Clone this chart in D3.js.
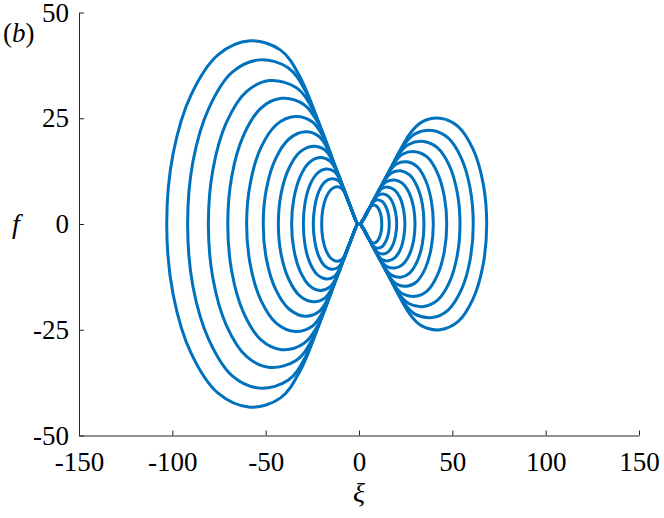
<!DOCTYPE html>
<html>
<head>
<meta charset="utf-8">
<script src="https://cdn.jsdelivr.net/npm/d3@7"></script>
<style>
  body { margin: 0; background: #fff; }
  text { font-family: "Liberation Serif", "Times New Roman", serif; fill: #000; }
</style>
</head>
<body>
<svg id="chart" width="664" height="518"></svg>
<script>
// upper half of each loop, [xi, f], from the outer extreme round to the tip
var leftLoops = [
  [[-103.0, 0], [-99.6, 16.6], [-89.9, 30.6], [-75.5, 40.0], [-58.4, 43.3], [-42.0, 41.1], [-31.4, 34.6], [-16.7, 17.9], [-1.9, 1.0], [-1, 0]],
  [[-91.8, 0], [-88.9, 14.9], [-80.4, 27.4], [-67.9, 35.9], [-53.0, 38.8], [-37.8, 36.9], [-28.2, 31.0], [-15.1, 16.1], [-1.9, 1.0], [-1, 0]],
  [[-80.7, 0], [-78.2, 13.0], [-71.0, 24.0], [-60.3, 31.3], [-47.7, 33.9], [-33.5, 32.2], [-24.8, 27.1], [-13.4, 14.2], [-1.9, 1.0], [-1, 0]],
  [[-70.3, 0], [-68.1, 11.4], [-61.8, 21.0], [-52.5, 27.4], [-41.4, 29.7], [-29.4, 28.2], [-21.8, 23.8], [-11.9, 12.5], [-1.9, 1.0], [-1, 0]],
  [[-60.2, 0], [-58.2, 9.7], [-52.6, 18.0], [-44.2, 23.5], [-34.3, 25.4], [-24.9, 24.1], [-18.8, 20.3], [-10.4, 10.8], [-1.9, 1.0], [-1, 0]],
  [[-51.3, 0], [-49.6, 8.3], [-44.7, 15.4], [-37.5, 20.1], [-28.9, 21.8], [-21.4, 20.7], [-16.3, 17.4], [-9.2, 9.3], [-1.9, 1.0], [-1, 0]],
  [[-43.2, 0], [-41.8, 7.0], [-37.7, 13.0], [-31.7, 17.0], [-24.5, 18.4], [-18.2, 17.5], [-13.9, 14.7], [-8.0, 8.0], [-1.9, 1.0], [-1, 0]],
  [[-36.1, 0], [-34.9, 6.0], [-31.6, 11.1], [-26.7, 14.5], [-20.9, 15.7], [-15.6, 14.9], [-12.0, 12.6], [-7.0, 6.9], [-1.9, 1.0], [-1, 0]],
  [[-29.8, 0], [-28.9, 5.0], [-26.3, 9.2], [-22.3, 12.0], [-17.7, 13.0], [-13.2, 12.4], [-10.1, 10.4], [-6.1, 5.8], [-1.9, 1.0], [-1, 0]],
  [[-24.5, 0], [-23.7, 4.1], [-21.6, 7.6], [-18.4, 9.9], [-14.6, 10.7], [-11.0, 10.2], [-8.5, 8.6], [-5.3, 4.9], [-1.9, 1.0], [-1, 0]],
  [[-20.0, 0], [-19.4, 3.4], [-17.7, 6.2], [-15.1, 8.1], [-12.0, 8.8], [-9.2, 8.4], [-7.2, 7.0], [-4.6, 4.1], [-1.9, 1.0], [-1, 0]]
];

var rightLoops = [
  [[68.4, 0], [66.5, 9.6], [61.1, 17.7], [53.0, 23.1], [43.4, 25.0], [33.6, 24.1], [27.2, 21.3], [14.7, 11.2], [2.2, 1.0], [1, 0]],
  [[61.2, 0], [59.5, 8.5], [54.8, 15.6], [47.6, 20.4], [39.2, 22.1], [30.0, 21.3], [24.2, 18.8], [13.2, 9.9], [2.2, 1.0], [1, 0]],
  [[54.1, 0], [52.6, 7.5], [48.4, 13.8], [42.1, 18.0], [34.6, 19.5], [26.6, 18.8], [21.5, 16.6], [11.9, 8.8], [2.2, 1.0], [1, 0]],
  [[47.0, 0], [45.7, 6.5], [42.0, 12.1], [36.6, 15.8], [30.1, 17.1], [23.3, 16.5], [18.9, 14.5], [10.6, 7.8], [2.2, 1.0], [1, 0]],
  [[39.8, 0], [38.7, 5.6], [35.6, 10.4], [31.0, 13.6], [25.5, 14.7], [20.1, 14.2], [16.4, 12.5], [9.3, 6.8], [2.2, 1.0], [1, 0]],
  [[34.8, 0], [33.9, 4.8], [31.1, 8.9], [27.1, 11.6], [22.3, 12.6], [17.4, 12.1], [14.2, 10.7], [8.2, 5.9], [2.2, 1.0], [1, 0]],
  [[30.0, 0], [29.2, 4.0], [26.8, 7.4], [23.3, 9.6], [19.2, 10.4], [14.7, 10.0], [11.9, 8.8], [7.1, 4.9], [2.2, 1.0], [1, 0]],
  [[24.6, 0], [23.9, 3.3], [22.0, 6.2], [19.1, 8.0], [15.7, 8.7], [12.3, 8.4], [10.1, 7.4], [6.2, 4.2], [2.2, 1.0], [1, 0]],
  [[20.2, 0], [19.6, 2.7], [18.1, 5.0], [15.7, 6.6], [12.9, 7.1], [10.2, 6.8], [8.4, 6.0], [5.3, 3.5], [2.2, 1.0], [1, 0]],
  [[16.2, 0], [15.8, 2.2], [14.5, 4.0], [12.6, 5.3], [10.4, 5.7], [8.4, 5.5], [7.0, 4.8], [4.6, 2.9], [2.2, 1.0], [1, 0]],
  [[12.2, 0], [11.9, 1.7], [10.9, 3.2], [9.5, 4.2], [7.8, 4.5], [6.7, 4.3], [5.7, 3.8], [4.0, 2.4], [2.2, 1.0], [1, 0]]
];

var xTicks = [-150, -100, -50, 0, 50, 100, 150];
var yTicks = [-50, -25, 0, 25, 50];

var margin = { left: 79, right: 25, top: 12.5, bottom: 82.5 };
var width = 664, height = 518;

var svg = d3.select('#chart');

var x = d3.scaleLinear().domain([-150, 150]).range([margin.left, width - margin.right]);
var y = d3.scaleLinear().domain([-50, 50]).range([height - margin.bottom, margin.top]);

// the loops are symmetric in f, so the lower half is the upper one mirrored
function ring(half) {
  var lower = half.slice(1, -1).reverse().map(function(p) { return [p[0], -p[1]]; });
  return half.concat(lower);
}

var line = d3.line()
  .x(function(d) { return x(d[0]); })
  .y(function(d) { return y(d[1]); })
  .curve(d3.curveCatmullRomClosed.alpha(0.5));

svg.append('g')
  .selectAll('path')
  .data(leftLoops.concat(rightLoops))
  .enter()
  .append('path')
  .attr('d', function(d) { return line(ring(d)); })
  .attr('fill', 'none')
  .attr('stroke', '#0072bd')
  .attr('stroke-width', 3)
  .attr('stroke-linejoin', 'round');

// plain hyphen for negatives, as in the original
var fmt = function(d) { return String(d); };

var xAxis = svg.append('g')
  .attr('transform', 'translate(0,' + y(-50) + ')')
  .call(d3.axisBottom(x).tickValues(xTicks).tickFormat(fmt).tickSizeInner(-5).tickSizeOuter(0).tickPadding(16));

var yAxis = svg.append('g')
  .attr('transform', 'translate(' + x(-150) + ',0)')
  .call(d3.axisLeft(y).tickValues(yTicks).tickFormat(fmt).tickSizeInner(-5).tickSizeOuter(0).tickPadding(10));

[xAxis, yAxis].forEach(function(g) {
  g.select('.domain').attr('stroke', '#262626').attr('stroke-width', 1);
  g.selectAll('.tick line').attr('stroke', '#262626');
  g.selectAll('.tick text')
    .attr('fill', '#000')
    .style('font-family', '"Liberation Serif", serif')
    .style('font-size', '27px');
});

svg.append('text')
  .attr('x', x(0))
  .attr('y', 502)
  .attr('text-anchor', 'middle')
  .style('font-size', '28px')
  .style('font-style', 'italic')
  .text('ξ');

svg.append('text')
  .attr('x', 16)
  .attr('y', y(0) + 9)
  .attr('text-anchor', 'middle')
  .style('font-size', '28px')
  .style('font-style', 'italic')
  .text('f');

var tag = svg.append('text')
  .attr('x', 3)
  .attr('y', 42)
  .style('font-size', '27px');
tag.append('tspan').text('(');
tag.append('tspan').style('font-style', 'italic').text('b');
tag.append('tspan').text(')');
</script>
</body>
</html>
